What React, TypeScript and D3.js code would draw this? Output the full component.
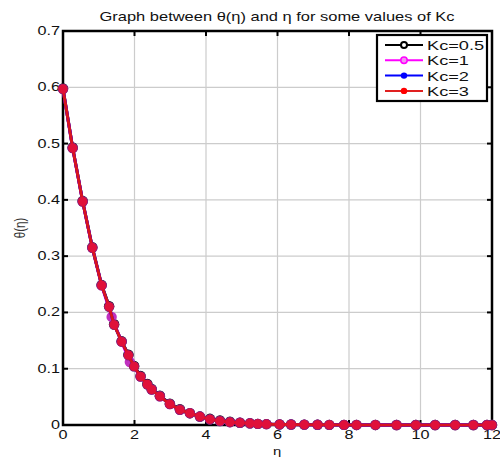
import React, { useEffect, useRef } from "react";
import * as d3 from "d3";

// mesh points
const eta = [0, 0.27, 0.55, 0.82, 1.08, 1.29, 1.43, 1.64, 1.83, 1.99, 2.17, 2.36, 2.48, 2.71, 2.99, 3.27, 3.55, 3.83, 4.11, 4.39, 4.67, 4.95, 5.23, 5.45, 5.69, 6.06, 6.38, 6.75, 7.12, 7.45, 7.86, 8.21, 8.74, 9.33, 9.87, 10.41, 10.97, 11.48, 11.86, 12];
const thetaKc05 = [0.598, 0.493, 0.398, 0.316, 0.249, 0.211, 0.179, 0.149, 0.125, 0.105, 0.087, 0.073, 0.064, 0.052, 0.038, 0.028, 0.021, 0.015, 0.011, 0.008, 0.006, 0.004, 0.003, 0.002, 0.0015, 0.001, 0.0008, 0.0006, 0.0004, 0.0003, 0.0002, 0.0001, 0.0001, 0, 0, 0, 0, 0, 0, 0];
const thetaKc2 = [0.597, 0.492, 0.397, 0.315, 0.248, 0.21, 0.178, 0.148, 0.124, 0.104, 0.086, 0.072, 0.063, 0.051, 0.037, 0.027, 0.021, 0.015, 0.01, 0.007, 0.005, 0.004, 0.003, 0.002, 0.0015, 0.001, 0.0008, 0.0006, 0.0004, 0.0003, 0.0002, 0.0001, 0.0001, 0, 0, 0, 0, 0, 0, 0];
const thetaKc3 = [0.597, 0.492, 0.397, 0.315, 0.248, 0.21, 0.178, 0.148, 0.124, 0.104, 0.086, 0.072, 0.063, 0.051, 0.037, 0.027, 0.021, 0.015, 0.01, 0.007, 0.005, 0.004, 0.003, 0.002, 0.0015, 0.001, 0.0008, 0.0006, 0.0004, 0.0003, 0.0002, 0.0001, 0.0001, 0, 0, 0, 0, 0, 0, 0];
// Kc=1 has a slightly different mesh
const etaKc1 = [0, 0.27, 0.55, 0.82, 1.08, 1.36, 1.64, 1.87, 2.17, 2.48, 2.71, 2.99, 3.27, 3.55, 3.83, 4.11, 4.39, 4.67, 4.95, 5.23, 5.45, 5.69, 6.06, 6.38, 6.75, 7.12, 7.45, 7.86, 8.21, 8.74, 9.33, 9.87, 10.41, 10.97, 11.48, 11.86, 12];
const thetaKc1 = [0.597, 0.492, 0.397, 0.315, 0.248, 0.192, 0.148, 0.112, 0.086, 0.063, 0.051, 0.037, 0.027, 0.021, 0.015, 0.01, 0.007, 0.005, 0.004, 0.003, 0.002, 0.0015, 0.001, 0.0008, 0.0006, 0.0004, 0.0003, 0.0002, 0.0001, 0.0001, 0, 0, 0, 0, 0, 0, 0];

const seriesNames = ["Kc=0.5", "Kc=1", "Kc=2", "Kc=3"];
const seriesColors = ["#000000", "#ff00ff", "#0000ff", "#ff0000"];
const xTicks = [0, 2, 4, 6, 8, 10, 12];
const yTicks = [0, 0.1, 0.2, 0.3, 0.4, 0.5, 0.6, 0.7];

const FONT = "'Liberation Sans', Arial, sans-serif";
const SX = 1.35; // the original picture is stretched sideways

export default function App() {
  const ref = useRef<SVGSVGElement | null>(null);

  useEffect(() => {
    const svg = d3.select(ref.current);
    svg.selectAll("*").remove();

    const width = 500;
    const height = 460;
    const margin = { left: 63, top: 31, right: 8, bottom: 35 };
    const innerW = width - margin.left - margin.right;
    const innerH = height - margin.top - margin.bottom;

    const x = d3.scaleLinear().domain([0, 12]).range([0, innerW]);
    const y = d3.scaleLinear().domain([0, 0.7]).range([innerH, 0]);

    const g = svg.append("g").attr("transform", `translate(${margin.left},${margin.top})`);

    const stretchText = (sel: any, tx: number, ty: number, txt: string, size: number, anchor: string) =>
      sel
        .append("text")
        .attr("transform", `translate(${tx},${ty}) scale(${SX},1)`)
        .attr("text-anchor", anchor)
        .style("font-family", FONT)
        .style("font-size", size + "px")
        .attr("fill", "#111")
        .text(txt);

    // grid
    g.selectAll(".gx")
      .data(xTicks.slice(1, -1))
      .enter()
      .append("line")
      .attr("x1", (d) => x(d))
      .attr("x2", (d) => x(d))
      .attr("y1", 0)
      .attr("y2", innerH)
      .attr("stroke", "#cccccc")
      .attr("stroke-width", 1.2);
    g.selectAll(".gy")
      .data(yTicks.slice(1, -1))
      .enter()
      .append("line")
      .attr("x1", 0)
      .attr("x2", innerW)
      .attr("y1", (d) => y(d))
      .attr("y2", (d) => y(d))
      .attr("stroke", "#cccccc")
      .attr("stroke-width", 1.2);

    // inward ticks on all four sides
    xTicks.forEach((t) => {
      g.append("line").attr("x1", x(t)).attr("x2", x(t)).attr("y1", innerH).attr("y2", innerH - 5).attr("stroke", "#000").attr("stroke-width", 2);
      g.append("line").attr("x1", x(t)).attr("x2", x(t)).attr("y1", 0).attr("y2", 5).attr("stroke", "#000").attr("stroke-width", 2);
      stretchText(g, x(t), innerH + 14, String(t), 12, "middle");
    });
    yTicks.forEach((t) => {
      g.append("line").attr("x1", 0).attr("x2", 5).attr("y1", y(t)).attr("y2", y(t)).attr("stroke", "#000").attr("stroke-width", 2);
      g.append("line").attr("x1", innerW).attr("x2", innerW - 5).attr("y1", y(t)).attr("y2", y(t)).attr("stroke", "#000").attr("stroke-width", 2);
      stretchText(g, -3, y(t) + 4, d3.format("")(+t.toFixed(1)), 12, "end");
    });

    // frame
    g.append("rect")
      .attr("width", innerW)
      .attr("height", innerH)
      .attr("fill", "none")
      .attr("stroke", "#000")
      .attr("stroke-width", 2.5);

    const line = d3
      .line<[number, number]>()
      .x((d) => x(d[0]))
      .y((d) => y(d[1]));

    const series = [
      { pts: eta.map((e, i) => [e, thetaKc05[i]] as [number, number]), color: seriesColors[0] },
      { pts: etaKc1.map((e, i) => [e, thetaKc1[i]] as [number, number]), color: seriesColors[1] },
      { pts: eta.map((e, i) => [e, thetaKc2[i]] as [number, number]), color: seriesColors[2] },
      { pts: eta.map((e, i) => [e, thetaKc3[i]] as [number, number]), color: seriesColors[3] },
    ];

    series.forEach((s, si) => {
      g.append("path")
        .datum(s.pts)
        .attr("d", line)
        .attr("fill", "none")
        .attr("stroke", si === 3 ? "#d8141e" : s.color)
        .attr("stroke-width", 3);
      const r = si === 3 ? 4.6 : 5.2;
      g.selectAll(".m" + si)
        .data(s.pts)
        .enter()
        .append("circle")
        .attr("cx", (d) => x(d[0]))
        .attr("cy", (d) => y(d[1]))
        .attr("r", r)
        .attr("fill", si === 3 ? "#e0103a" : si === 2 ? "#80207a" : si === 1 ? "#c030c0" : s.color)
        .attr("stroke", "none");
    });

    // legend
    const lg = svg.append("g").attr("transform", "translate(377,35)");
    lg.append("rect").attr("width", 110).attr("height", 66).attr("fill", "#fff").attr("stroke", "#000").attr("stroke-width", 2.2);
    seriesNames.forEach((name, i) => {
      const ly = 10 + i * 15.3;
      lg.append("line").attr("x1", 8).attr("x2", 46).attr("y1", ly).attr("y2", ly).attr("stroke", seriesColors[i] === "#ff0000" ? "#e02020" : seriesColors[i]).attr("stroke-width", 2);
      if (i === 0) {
        lg.append("circle").attr("cx", 27).attr("cy", ly).attr("r", 3).attr("fill", "#fff").attr("stroke", "#000").attr("stroke-width", 2);
      } else if (i === 1) {
        lg.append("circle").attr("cx", 27).attr("cy", ly).attr("r", 3.2).attr("fill", "#f090f0").attr("stroke", seriesColors[i]).attr("stroke-width", 1.5);
      } else {
        lg.append("circle").attr("cx", 27).attr("cy", ly).attr("r", 3.2).attr("fill", seriesColors[i]);
      }
      stretchText(lg, 50, ly + 5, name, 13.5, "start");
    });

    // titles
    stretchText(svg, 277, 21, "Graph between \u03b8(\u03b7) and \u03b7 for some values of Kc", 12.2, "middle");
    stretchText(svg, 277, 455, "\u03b7", 11, "middle");
    svg
      .append("text")
      .attr("transform", `translate(25,228) rotate(-90) scale(1,${SX})`)
      .attr("text-anchor", "middle")
      .style("font-family", FONT)
      .style("font-size", "11.5px")
      .attr("fill", "#333")
      .text("\u03b8(\u03b7)");
  }, []);

  return (
    <svg
      ref={ref}
      width={500}
      height={460}
      style={{ position: "absolute", left: 0, top: 0, background: "#fff" }}
    />
  );
}
